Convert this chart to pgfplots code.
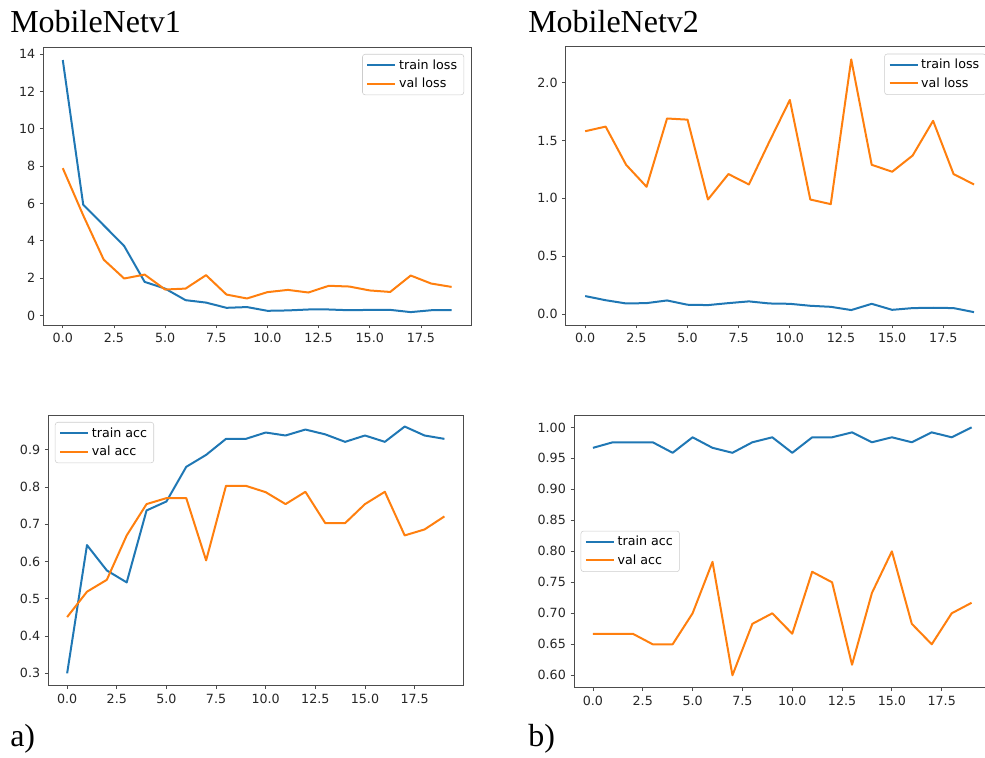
\documentclass[border=0pt]{standalone}
\usepackage{fontspec}
\setmainfont{Liberation Serif}
\newfontfamily\dejavu{DejaVu Sans}
\usepackage{pgfplots}
\usepackage{pgfplotstable}
\pgfplotsset{compat=1.18}
\definecolor{mblue}{HTML}{1F77B4}
\definecolor{morange}{HTML}{FF7F0E}

\pgfplotstableread{
ep train val
0 13.68 7.89
1 5.93 5.36
2 4.83 2.99
3 3.72 1.98
4 1.80 2.19
5 1.44 1.39
6 0.82 1.44
7 0.69 2.16
8 0.41 1.12
9 0.45 0.91
10 0.25 1.25
11 0.27 1.37
12 0.32 1.23
13 0.32 1.59
14 0.28 1.55
15 0.30 1.34
16 0.30 1.26
17 0.18 2.14
18 0.28 1.71
19 0.28 1.53
}\tlloss

\pgfplotstableread{
ep train val
0 0.156 1.58
1 0.120 1.62
2 0.092 1.29
3 0.095 1.10
4 0.118 1.69
5 0.081 1.68
6 0.078 0.99
7 0.095 1.21
8 0.110 1.12
9 0.092 1.49
10 0.089 1.85
11 0.072 0.99
12 0.063 0.95
13 0.035 2.20
14 0.089 1.29
15 0.037 1.23
16 0.052 1.37
17 0.055 1.67
18 0.052 1.21
19 0.017 1.12
}\trloss

\pgfplotstableread{
ep train val
0 0.300 0.451
1 0.644 0.519
2 0.576 0.551
3 0.544 0.670
4 0.737 0.754
5 0.761 0.770
6 0.854 0.770
7 0.886 0.603
8 0.929 0.803
9 0.929 0.803
10 0.946 0.786
11 0.938 0.754
12 0.954 0.787
13 0.941 0.703
14 0.921 0.703
15 0.938 0.754
16 0.921 0.787
17 0.962 0.670
18 0.938 0.686
19 0.929 0.721
}\blacc

\pgfplotstableread{
ep train val
0 0.967 0.667
1 0.976 0.667
2 0.976 0.667
3 0.976 0.650
4 0.959 0.650
5 0.984 0.700
6 0.967 0.783
7 0.959 0.600
8 0.976 0.683
9 0.984 0.700
10 0.959 0.667
11 0.984 0.767
12 0.984 0.750
13 0.992 0.617
14 0.976 0.733
15 0.984 0.800
16 0.976 0.683
17 0.992 0.650
18 0.984 0.700
19 1.000 0.717
}\bracc

\pgfplotsset{
 mpl/.style={
  scale only axis,
  axis line style={black!70, line width=0.6pt},
  tick align=outside, xtick pos=left, ytick pos=left,
  major tick length=2.6pt,
  tick style={black!70, line width=0.6pt},
  tick label style={font=\dejavu\fontsize{9.5}{11}\selectfont, text=black!85},
  /pgf/number format/assume math mode=true,
  xmin=-0.95, xmax=19.95,
  xtick={0,2.5,5,7.5,10,12.5,15,17.5},
  xticklabels={0.0,2.5,5.0,7.5,10.0,12.5,15.0,17.5},
  legend cell align=left,
  legend image code/.code={\draw[##1, line width=1.5pt] (0pt,0pt) -- (21pt,0pt);},
  legend style={font=\dejavu\fontsize{9.5}{11}\selectfont, draw=black!20,
    rounded corners=2pt, inner xsep=3pt, inner ysep=2pt, row sep=1pt,
    fill=white, fill opacity=0.8, text opacity=1},
 },
 ln/.style={line width=1.5pt, line join=round},
}

\begin{document}
\begin{tikzpicture}
\path[use as bounding box] (0,0) rectangle (738.75pt,567.75pt);

\node[anchor=base west, font=\fontsize{24}{28}\selectfont, inner sep=0pt] at (7.5pt,543pt) {MobileNetv1};
\node[anchor=base west, font=\fontsize{24}{28}\selectfont, inner sep=0pt] at (396pt,543pt) {MobileNetv2};
\node[anchor=base west, font=\fontsize{24}{28}\selectfont, inner sep=0pt] at (7.5pt,7.7pt) {a)};
\node[anchor=base west, font=\fontsize{24}{28}\selectfont, inner sep=0pt] at (396pt,7.7pt) {b)};

% top left
\begin{axis}[mpl, at={(32.5pt,324pt)}, anchor=south west,
  width=320.8pt, height=208.5pt,
  ymin=-0.51, ymax=14.38,
  ytick={0,2,4,6,8,10,12,14}, yticklabels={0,2,4,6,8,10,12,14},
  legend style={at={(1,1)}, anchor=north east, xshift=-5.25pt, yshift=-5.25pt}]
\addplot[mblue, ln] table[x=ep,y=train] {\tlloss};
\addlegendentry{train loss}
\addplot[morange, ln] table[x=ep,y=val] {\tlloss};
\addlegendentry{val loss}
\end{axis}

% top right
\begin{axis}[mpl, at={(424.3pt,324pt)}, anchor=south west,
  width=320.8pt, height=208.7pt,
  ymin=-0.094, ymax=2.31,
  ytick={0,0.5,1,1.5,2}, yticklabels={0.0,0.5,1.0,1.5,2.0},
  legend style={at={(1,1)}, anchor=north east, xshift=-5.5pt, yshift=-5.25pt}]
\addplot[mblue, ln] table[x=ep,y=train] {\trloss};
\addlegendentry{train loss}
\addplot[morange, ln] table[x=ep,y=val] {\trloss};
\addlegendentry{val loss}
\end{axis}

% bottom left
\begin{axis}[mpl, at={(36.2pt,53.5pt)}, anchor=south west,
  width=311.25pt, height=203pt,
  ymin=0.267, ymax=0.993,
  ytick={0.3,0.4,0.5,0.6,0.7,0.8,0.9}, yticklabels={0.3,0.4,0.5,0.6,0.7,0.8,0.9},
  legend style={at={(0,1)}, anchor=north west, xshift=5pt, yshift=-5.25pt}]
\addplot[mblue, ln] table[x=ep,y=train] {\blacc};
\addlegendentry{train acc}
\addplot[morange, ln] table[x=ep,y=val] {\blacc};
\addlegendentry{val acc}
\end{axis}

% bottom right
\begin{axis}[mpl, at={(430.5pt,52pt)}, anchor=south west,
  width=312.4pt, height=204.5pt,
  ymin=0.58, ymax=1.02,
  ytick={0.6,0.65,0.7,0.75,0.8,0.85,0.9,0.95,1.0},
  yticklabels={0.60,0.65,0.70,0.75,0.80,0.85,0.90,0.95,1.00},
  legend style={at={(0,0.5)}, anchor=west, xshift=5pt}]
\addplot[mblue, ln] table[x=ep,y=train] {\bracc};
\addlegendentry{train acc}
\addplot[morange, ln] table[x=ep,y=val] {\bracc};
\addlegendentry{val acc}
\end{axis}
\end{tikzpicture}
\end{document}
